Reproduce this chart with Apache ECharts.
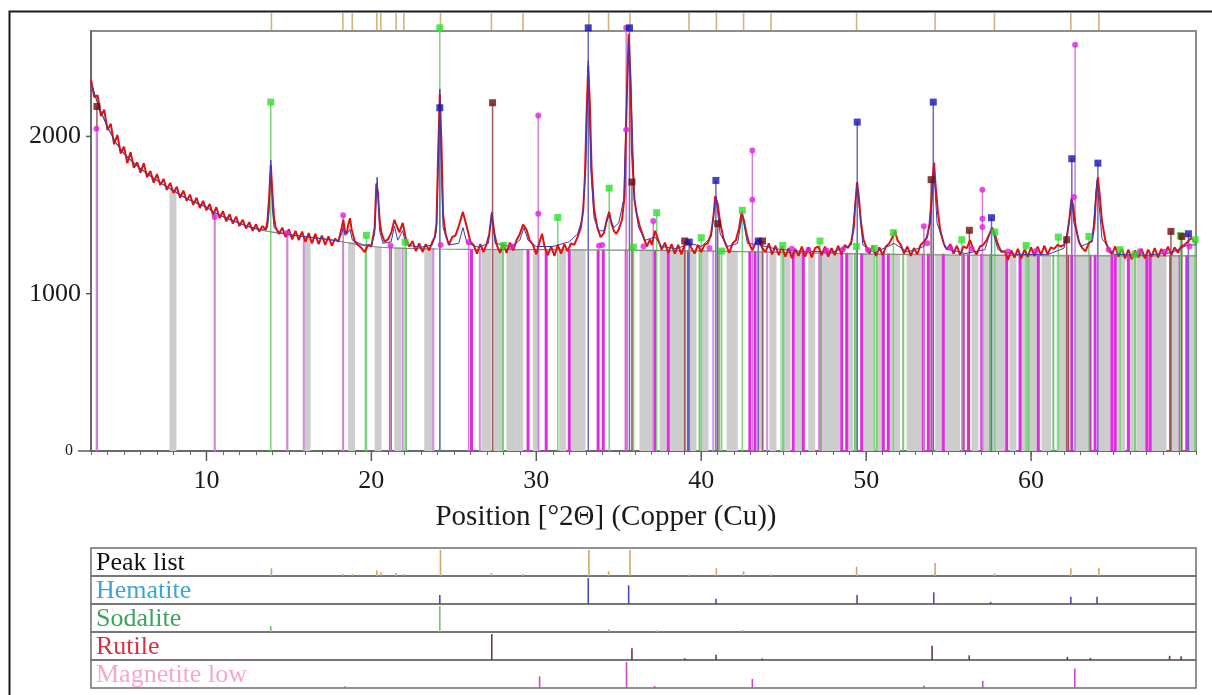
<!DOCTYPE html>
<html><head><meta charset="utf-8">
<script src="https://cdn.jsdelivr.net/npm/echarts@6/dist/echarts.min.js"></script>
<style>html,body{margin:0;padding:0;background:#fff}#c{width:1212px;height:695px}</style>
</head><body><div id="c"></div>
<script>
// ---------- axis / labels ----------
const xMin = 3, xMax = 70, yMax = 2670;
const xTickLabels = [10, 20, 30, 40, 50, 60];
const yTickLabels = [0, 1000, 2000];
const xTitle = 'Position [°2Θ] (Copper (Cu))';
const rowNames = ['Peak list', 'Hematite', 'Sodalite', 'Rutile', 'Magnetite low'];

// ---------- observed scan (counts) ----------
const observed = [
[3.0,2360],[3.2,2250],[3.4,2260],[3.6,2130],[3.8,2170],[4.0,2040],[4.2,2080],[4.4,1950],[4.6,2010],[4.8,1890],
[5.0,1935],[5.2,1830],[5.4,1900],[5.6,1800],[5.8,1835],[6.0,1770],[6.2,1830],[6.4,1740],[6.6,1780],[6.8,1705],
[7.0,1760],[7.2,1690],[7.4,1730],[7.6,1660],[7.8,1705],[8.0,1640],[8.2,1680],[8.4,1610],[8.6,1655],[8.8,1590],
[9.0,1630],[9.2,1565],[9.4,1610],[9.6,1545],[9.8,1590],[10.0,1530],[10.2,1570],[10.4,1500],[10.6,1550],[10.8,1480],
[11.0,1525],[11.2,1460],[11.4,1505],[11.6,1445],[11.8,1490],[12.0,1430],[12.2,1470],[12.4,1415],[12.6,1455],[12.8,1400],
[13.0,1440],[13.2,1395],[13.4,1430],[13.6,1405],[13.7,1465],[13.8,1610],[13.9,1820],[14.0,1640],[14.1,1480],[14.2,1420],
[14.4,1380],[14.6,1420],[14.8,1360],[15.0,1410],[15.2,1345],[15.4,1400],[15.6,1340],[15.8,1395],[16.0,1330],[16.2,1385],
[16.4,1320],[16.6,1380],[16.8,1315],[17.0,1370],[17.2,1310],[17.4,1365],[17.6,1305],[17.8,1350],[18.0,1330],[18.2,1420],
[18.3,1470],[18.4,1395],[18.5,1380],[18.6,1440],[18.7,1480],[18.8,1410],[19.0,1330],[19.2,1310],[19.4,1290],[19.6,1265],
[19.8,1310],[20.0,1300],[20.2,1420],[20.3,1700],[20.4,1640],[20.5,1470],[20.6,1390],[20.8,1330],[21.0,1345],[21.2,1385],
[21.4,1470],[21.5,1440],[21.7,1390],[21.9,1450],[22.1,1345],[22.3,1300],[22.5,1335],[22.7,1270],[22.9,1320],[23.1,1265],
[23.3,1315],[23.5,1275],[23.7,1330],[23.85,1360],[23.95,1450],[24.05,1900],[24.15,2270],[24.25,1950],[24.35,1500],[24.5,1380],
[24.7,1310],[24.9,1360],[25.1,1370],[25.3,1430],[25.55,1520],[25.8,1420],[26.0,1330],[26.2,1310],[26.4,1255],[26.6,1315],
[26.8,1265],[27.0,1320],[27.15,1380],[27.3,1510],[27.45,1390],[27.6,1310],[27.8,1260],[28.0,1320],[28.2,1260],[28.4,1325],
[28.6,1275],[28.8,1340],[29.0,1380],[29.2,1440],[29.4,1410],[29.6,1340],[29.8,1310],[30.0,1250],[30.2,1330],[30.35,1380],
[30.5,1300],[30.7,1245],[30.9,1300],[31.1,1240],[31.3,1310],[31.5,1255],[31.7,1315],[31.9,1270],[32.1,1320],[32.3,1310],
[32.5,1360],[32.7,1420],[32.85,1540],[32.95,1750],[33.05,2150],[33.15,2450],[33.25,2200],[33.35,1800],[33.5,1540],[33.7,1420],
[33.9,1360],[34.1,1385],[34.3,1480],[34.42,1520],[34.55,1450],[34.7,1400],[34.85,1380],[35.0,1410],[35.2,1470],[35.35,1620],
[35.5,2300],[35.6,2650],[35.7,2400],[35.8,1900],[35.95,1600],[36.1,1500],[36.3,1420],[36.5,1360],[36.7,1300],[36.9,1345],
[37.0,1310],[37.2,1400],[37.4,1340],[37.6,1280],[37.8,1325],[38.0,1260],[38.2,1315],[38.4,1255],[38.6,1310],[38.8,1250],
[39.0,1315],[39.2,1340],[39.4,1290],[39.6,1255],[39.8,1310],[40.0,1265],[40.2,1310],[40.4,1320],[40.6,1380],[40.75,1500],
[40.85,1620],[41.0,1570],[41.15,1450],[41.35,1350],[41.5,1310],[41.7,1260],[41.9,1320],[42.1,1340],[42.3,1420],[42.45,1520],
[42.6,1460],[42.75,1380],[42.9,1320],[43.1,1275],[43.3,1325],[43.5,1345],[43.7,1290],[43.9,1265],[44.1,1320],[44.3,1250],
[44.5,1305],[44.7,1245],[44.9,1300],[45.1,1235],[45.3,1290],[45.5,1225],[45.7,1285],[45.9,1240],[46.1,1300],[46.3,1235],
[46.5,1295],[46.7,1230],[46.9,1290],[47.1,1300],[47.3,1245],[47.5,1300],[47.7,1235],[47.9,1290],[48.1,1245],[48.3,1305],
[48.5,1250],[48.7,1310],[48.9,1290],[49.1,1330],[49.25,1420],[49.35,1580],[49.45,1710],[49.55,1620],[49.7,1440],[49.85,1340],
[50.0,1300],[50.2,1255],[50.4,1305],[50.6,1240],[50.8,1295],[51.0,1245],[51.2,1300],[51.4,1320],[51.6,1360],[51.75,1400],
[51.9,1340],[52.1,1310],[52.3,1255],[52.5,1300],[52.7,1240],[52.9,1290],[53.1,1250],[53.3,1310],[53.5,1330],[53.7,1360],
[53.85,1450],[53.95,1580],[54.05,1760],[54.12,1834],[54.2,1700],[54.35,1520],[54.5,1400],[54.7,1320],[54.9,1280],[55.1,1315],
[55.3,1255],[55.5,1305],[55.7,1245],[55.9,1300],[56.1,1290],[56.3,1340],[56.5,1280],[56.7,1250],[56.9,1300],[57.1,1310],
[57.3,1340],[57.5,1385],[57.65,1420],[57.8,1380],[58.0,1310],[58.2,1265],[58.4,1270],[58.6,1215],[58.8,1275],[59.0,1230],
[59.2,1285],[59.4,1225],[59.6,1280],[59.8,1235],[60.0,1295],[60.2,1240],[60.4,1300],[60.6,1245],[60.8,1305],[61.0,1250],
[61.2,1295],[61.4,1285],[61.6,1310],[61.8,1300],[62.0,1310],[62.2,1380],[62.35,1500],[62.45,1600],[62.55,1560],[62.7,1430],
[62.9,1330],[63.1,1290],[63.3,1270],[63.5,1320],[63.7,1340],[63.85,1450],[63.95,1640],[64.05,1740],[64.15,1640],[64.3,1460],
[64.5,1340],[64.7,1280],[64.9,1250],[65.1,1300],[65.3,1235],[65.5,1285],[65.7,1225],[65.9,1280],[66.1,1220],[66.3,1275],
[66.5,1230],[66.7,1285],[66.9,1225],[67.1,1280],[67.3,1235],[67.5,1290],[67.7,1230],[67.9,1285],[68.1,1240],[68.3,1300],
[68.5,1245],[68.7,1295],[68.9,1260],[69.1,1300],[69.3,1310],[69.5,1330],[69.7,1355],[69.85,1340],[70.0,1320]
];

// ---------- background ----------
const background = [
[3,2340],[3.5,2180],[4,2060],[4.5,1960],[5,1890],[5.5,1840],[6,1795],[6.5,1755],[7,1720],[7.5,1685],[8,1655],[8.5,1622],
[9,1595],[9.5,1572],[10,1550],[10.5,1515],[11,1490],[11.5,1468],[12,1448],[12.5,1428],[13,1412],[13.5,1400],[14,1392],
[15,1376],[16,1362],[17,1350],[18,1335],[19,1315],[20,1300],[21,1292],[22,1288],[24,1284],[26,1282],[30,1280],[35,1277],
[40,1272],[45,1262],[50,1252],[55,1246],[60,1242],[65,1240],[70,1240]
];

// ---------- calculated profile ----------
const calculated = [
[3,2340],[3.5,2180],[4,2060],[4.5,1960],[5,1890],[5.5,1840],[6,1795],[6.5,1755],[7,1720],[7.5,1685],[8,1655],[8.5,1622],
[9,1595],[9.5,1572],[10,1550],[10.5,1515],[11,1490],[11.5,1468],[12,1448],[12.5,1428],[13,1414],[13.5,1405],[13.7,1420],
[13.8,1520],[13.9,1850],[14.0,1540],[14.1,1420],[14.5,1388],[15,1376],[16,1362],[17,1350],[18,1335],[18.2,1380],[18.3,1420],
[18.4,1370],[18.6,1390],[18.7,1410],[18.85,1340],[19.5,1310],[20,1310],[20.2,1380],[20.35,1740],[20.5,1400],[20.7,1320],
[21.2,1330],[21.4,1430],[21.6,1340],[21.9,1400],[22.1,1310],[23,1295],[23.7,1310],[23.95,1400],[24.08,1900],[24.15,2300],
[24.22,1900],[24.35,1420],[24.7,1310],[25.3,1320],[25.55,1420],[25.8,1320],[26.5,1295],[27.1,1320],[27.3,1520],[27.5,1320],
[28.5,1300],[29.0,1340],[29.25,1420],[29.5,1340],[30,1300],[31,1300],[32,1330],[32.5,1380],[32.8,1480],[33.0,1800],
[33.15,2480],[33.3,1800],[33.5,1480],[33.8,1400],[34.1,1400],[34.4,1500],[34.7,1420],[35.0,1450],[35.3,1600],[35.5,2300],
[35.62,2600],[35.75,2300],[35.95,1600],[36.2,1420],[36.6,1340],[37.2,1360],[37.6,1300],[38.5,1285],[39.3,1320],[40.0,1300],
[40.6,1360],[40.88,1620],[41.15,1380],[41.6,1300],[42.2,1320],[42.5,1500],[42.8,1320],[43.5,1310],[44.5,1285],[46,1270],
[48,1265],[49.1,1310],[49.45,1700],[49.8,1310],[50.5,1260],[51.7,1320],[52.5,1265],[53.5,1300],[53.9,1450],[54.1,1800],
[54.3,1450],[54.8,1290],[56,1255],[57.2,1280],[57.6,1420],[58,1280],[59,1250],[61,1248],[62.0,1290],[62.3,1450],[62.45,1620],
[62.6,1450],[63.0,1300],[63.7,1330],[64.0,1720],[64.3,1350],[65,1250],[67,1245],[68.5,1260],[69.5,1310],[70,1310]
];

// ---------- reference lines below the scan: [position, top] ----------
const greyLines = [
[7.97,1660],[16.1,1360],[18.8,1330],[20.41,1300],[21.6,1295],[23.42,1290],[23.6,1290],[26.88,1285],[27.06,1285],[27.6,1285],
[27.79,1285],[28.4,1285],[28.6,1285],[29.0,1285],[30.0,1280],[31.6,1280],[32.34,1280],[32.55,1280],[32.77,1280],[36.47,1280],
[36.7,1280],[36.9,1280],[37.08,1280],[37.69,1278],[38.3,1278],[38.54,1278],[38.75,1278],[38.9,1278],[39.5,1276],[40.23,1275],
[41.75,1273],[42.0,1273],[43.57,1270],[44.35,1270],[45.0,1265],[45.2,1265],[45.9,1264],[46.0,1264],[46.7,1262],[47.45,1262],
[47.7,1262],[47.95,1262],[48.2,1260],[49.0,1260],[50.03,1258],[50.3,1258],[50.9,1258],[51.6,1256],[51.85,1256],[52.66,1255],
[52.9,1255],[53.1,1255],[53.3,1255],[54.4,1254],[55.0,1254],[55.2,1254],[55.49,1254],[56.6,1252],[57.3,1252],[57.82,1252],
[58.2,1250],[58.9,1250],[59.6,1250],[60.0,1250],[60.2,1250],[60.85,1248],[61.0,1248],[61.76,1248],[62.0,1248],[62.9,1248],
[63.17,1248],[63.3,1248],[64.29,1246],[64.6,1246],[65.3,1246],[65.5,1246],[66.1,1246],[66.6,1246],[66.9,1246],[67.4,1246],
[67.72,1246],[68.0,1246],[68.6,1246],[68.8,1246],[69.7,1246]
];
const orchidLines = [
[10.5,1500],[14.91,1380],[15.9,1365],[18.29,1330],[21.9,1295],[23.75,1290],[26.58,1285],[39.0,1278],[40.73,1275],[44.0,1270],
[54.07,1254],[62.67,1248]
];
const magentaLines = [
[21.16,1295],[26.07,1285],[29.5,1285],[30.6,1280],[32.0,1280],[33.75,1280],[34.06,1280],[35.45,1280],[37.2,1278],[38.0,1278],
[42.95,1272],[43.26,1272],[45.58,1265],[46.19,1264],[47.2,1262],[48.52,1260],[48.82,1260],[49.73,1258],[51.04,1258],[51.34,1256],
[53.47,1255],[53.77,1255],[54.68,1254],[55.89,1252],[56.2,1252],[57.01,1252],[58.52,1250],[59.33,1250],[60.44,1248],[62.47,1248],
[63.58,1248],[63.88,1248],[64.9,1246],[65.1,1246],[65.9,1246],[67.02,1246],[67.22,1246],[69.04,1246],[69.44,1246]
];
const greenLines = [
[19.66,1300],[22.1,1295],[27.98,1285],[35.88,1280],[39.9,1276],[41.1,1273],[44.97,1266],[49.32,1258],[50.64,1258],[52.25,1256],
[57.51,1252],[59.84,1250],[61.35,1248],[66.31,1246],[69.95,1246]
];
const brownLines = [[62.26,1248],[68.43,1246]];
const blueLines = [[39.2,1276]];

// ---------- phase sticks with markers: [position, top] ----------
const sodalite = [
[13.9,2218],[19.7,1371],[22.05,1327],[24.15,2690],[28.0,1307],[31.3,1485],[34.42,1671],[35.88,1296],[37.3,1515],[40.0,1356],
[41.24,1271],[42.49,1530],[44.94,1307],[47.2,1335],[49.4,1301],[50.5,1288],[51.65,1388],[55.8,1343],[57.8,1392],[59.7,1307],
[61.65,1360],[63.5,1364],[65.4,1280],[66.3,1250],[69.05,1370],[69.95,1343]
];
const hematite = [
[24.15,2182],[33.15,2690],[35.65,2690],[39.27,1328],[40.89,1720],[43.46,1335],[49.46,2091],[54.07,2218],[57.6,1483],
[62.47,1858],[64.05,1830],[69.54,1381]
];
const rutile = [
[3.36,2190],[27.35,2214],[35.8,1710],[39.0,1335],[41.0,1445],[43.72,1335],[53.94,1725],[56.26,1403],[62.16,1343],
[68.48,1396],[69.14,1364]
];
const magnetite = [
[3.33,2049],[10.5,1487],[14.9,1386],[18.29,1498],[21.16,1307],[25.9,1328],[30.12,2133],[35.45,2690],[37.09,1462],[43.1,1911],
[53.5,1428],[57.05,1661],[62.67,2583]
];
const magnetiteDots = [
[30.12,1509],[35.45,2042],[43.1,1598],[57.05,1477],[57.05,1424],[62.6,1614],[24.2,1310],[28.5,1300],[33.8,1305],[34.0,1310],
[36.5,1300],[40.5,1290],[45.5,1285],[46.5,1280],[47.6,1275],[48.6,1282],[50.1,1278],[53.7,1320],[55.1,1290],[56.4,1285],
[58.6,1268],[60.3,1272],[64.7,1280],[66.6,1270],[68.1,1266],[69.6,1300]
];

// ---------- lower panel: relative intensities ----------
const peakListRel = [
[13.94,30],[18.27,8],[18.84,8],[20.33,22],[20.57,14],[21.5,12],[21.97,8],[24.19,100],[27.28,12],[29.19,8],[33.19,100],
[34.38,18],[35.68,100],[39.26,6],[40.92,30],[42.57,18],[44.23,6],[49.42,36],[54.18,50],[57.78,10],[62.41,30],[64.11,32]
];
const hematiteRel = [[24.15,35],[33.15,100],[35.6,72],[40.9,20],[49.45,35],[54.1,45],[57.55,8],[62.41,28],[64.0,28]];
const sodaliteRel = [[13.9,22],[24.15,100],[34.4,10],[37.3,6],[42.5,8]];
const rutileRel = [[27.3,100],[35.8,45],[39.0,7],[40.9,20],[43.7,6],[54.0,55],[56.25,18],[62.2,12],[63.6,8],[68.4,16],[69.1,14]];
const magnetiteRel = [[18.4,7],[30.2,45],[35.47,100],[37.17,8],[43.1,35],[53.5,10],[57.07,28],[62.65,75]];

// ================= build chart =================
const FONT = 'Liberation Serif, DejaVu Serif, serif';
const chart = echarts.init(document.getElementById('c'), null, {renderer: 'canvas'});

function vline(color, width) {
  return function (params, api) {
    const a = api.coord([api.value(0), 0]);
    const b = api.coord([api.value(0), api.value(1)]);
    return {type: 'line', shape: {x1: a[0], y1: a[1], x2: b[0], y2: b[1]}, style: {stroke: color, lineWidth: width}};
  };
}
function vrect(color, width) {
  return function (params, api) {
    const a = api.coord([api.value(0), 0]);
    const b = api.coord([api.value(0), api.value(1)]);
    return {type: 'rect', shape: {x: a[0] - width / 2, y: b[1], width: width, height: a[1] - b[1]}, style: {fill: color}};
  };
}
function lineSeries(data, color, width, z) {
  return {type: 'custom', xAxisIndex: 0, yAxisIndex: 0, data: data, z: z, renderItem: vline(color, width), silent: true};
}

const grids = [{left: 91, right: 16, top: 31, bottom: 244, show: true, borderColor: '#8c8c8c', borderWidth: 2}];
grids.push({left: 91, right: 16, top: 13, height: 17, show: false});
const rowTop = 548, rowH = 28;
for (let i = 0; i < 5; i++) grids.push({left: 91, right: 16, top: rowTop + i * rowH, height: rowH, show: true, borderColor: '#6e6e6e', borderWidth: 1.5});

const xAxes = [{
  gridIndex: 0, type: 'value', min: xMin, max: xMax, interval: 1,
  axisLine: {show: true, lineStyle: {color: '#6a6a6a', width: 2}},
  axisTick: {show: true, length: 4, lineStyle: {color: '#6a6a6a'}},
  splitLine: {show: false},
  axisLabel: {margin: 17, color: '#1a1a1a', fontFamily: FONT, fontSize: 26,
    formatter: v => (xTickLabels.indexOf(v) >= 0 ? String(v) : '')}
}];
const yAxes = [{
  gridIndex: 0, type: 'value', min: 0, max: yMax, interval: 1000,
  axisLine: {show: true, lineStyle: {color: '#6a6a6a', width: 2}},
  axisTick: {show: false}, splitLine: {show: false},
  axisLabel: {margin: 10, color: '#1a1a1a', fontFamily: FONT, fontSize: 26,
    formatter: v => (v === 0 ? '{s|0}' : (yTickLabels.indexOf(v) >= 0 ? String(v) : '')),
    rich: {s: {fontSize: 16, fontFamily: FONT, color: '#1a1a1a', padding: [0, 8, 0, 0]}}}
}];
for (let g = 1; g <= 6; g++) {
  xAxes.push({gridIndex: g, type: 'value', min: xMin, max: xMax, show: false});
  yAxes.push({gridIndex: g, type: 'value', min: 0, max: g === 1 ? 1 : 108, show: false});
}

const series = [
  {type: 'custom', xAxisIndex: 0, yAxisIndex: 0, data: greyLines, z: 1, renderItem: vrect('#cdcdcd', 7), silent: true},
  lineSeries(orchidLines, '#d28ee0', 2, 2),
  lineSeries(magentaLines, '#e02ce0', 3, 2),
  lineSeries(greenLines, '#74c874', 2, 2),
  lineSeries(brownLines, '#9a5a52', 2, 2),
  lineSeries(blueLines, '#5a5ac8', 2, 2),
  lineSeries(sodalite, '#7ad67a', 1.5, 3),
  lineSeries(hematite, '#6a6ac0', 1.5, 3),
  lineSeries(rutile, '#a05a5a', 1.5, 3),
  lineSeries(magnetite, '#d47ed8', 1.5, 3),
  {type: 'line', xAxisIndex: 0, yAxisIndex: 0, data: background, showSymbol: false, z: 4, silent: true,
    lineStyle: {color: '#7f8c78', width: 1.2}},
  {type: 'line', xAxisIndex: 0, yAxisIndex: 0, data: observed, showSymbol: false, z: 5, silent: true, sampling: 'none',
    lineStyle: {color: '#e41010', width: 2}},
  {type: 'line', xAxisIndex: 0, yAxisIndex: 0, data: calculated, showSymbol: false, z: 6, silent: true,
    lineStyle: {color: '#3b3bb0', width: 1}},
  {type: 'scatter', xAxisIndex: 0, yAxisIndex: 0, data: magnetiteDots, symbol: 'circle', symbolSize: 6, z: 7, clip: false,
    itemStyle: {color: '#e41ee0'}, silent: true},
  {type: 'scatter', xAxisIndex: 0, yAxisIndex: 0, data: magnetite, symbol: 'circle', symbolSize: 6, z: 7, clip: false,
    itemStyle: {color: '#e41ee0'}, silent: true},
  {type: 'scatter', xAxisIndex: 0, yAxisIndex: 0, data: sodalite, symbol: 'rect', symbolSize: 7, z: 8, clip: false,
    itemStyle: {color: '#2ee02e'}, silent: true},
  {type: 'scatter', xAxisIndex: 0, yAxisIndex: 0, data: rutile, symbol: 'rect', symbolSize: 7, z: 8, clip: false,
    itemStyle: {color: '#6e0e0e'}, silent: true},
  {type: 'scatter', xAxisIndex: 0, yAxisIndex: 0, data: hematite, symbol: 'rect', symbolSize: 7, z: 8, clip: false,
    itemStyle: {color: '#1414b4'}, silent: true},
  // major x ticks
  {type: 'custom', xAxisIndex: 0, yAxisIndex: 0, data: xTickLabels.map(v => [v, 0]), z: 9, clip: false, silent: true,
    renderItem: (p, api) => { const a = api.coord([api.value(0), 0]);
      return {type: 'line', shape: {x1: a[0], y1: a[1], x2: a[0], y2: a[1] + 10}, style: {stroke: '#5a5a5a', lineWidth: 1.5}}; }},
  // y ticks
  {type: 'custom', xAxisIndex: 0, yAxisIndex: 0, data: yTickLabels.map(v => [xMin, v]), z: 9, clip: false, silent: true,
    renderItem: (p, api) => { const a = api.coord([api.value(0), api.value(1)]); const len = api.value(1) === 0 ? 13 : 5;
      return {type: 'line', shape: {x1: a[0] - len, y1: a[1], x2: a[0], y2: a[1]}, style: {stroke: '#5a5a5a', lineWidth: 1.5}}; }},
  // peak-list ticks above the frame
  {type: 'custom', xAxisIndex: 1, yAxisIndex: 1, data: peakListRel.map(d => [d[0], 1]), z: 3, silent: true,
    renderItem: vline('#d6b27c', 1.6)}
];
const rowData = [peakListRel, hematiteRel, sodaliteRel, rutileRel, magnetiteRel];
const rowStick = ['#cfa868', '#4a4ac0', '#6cc86c', '#6e3a3a', '#c848d0'];
for (let i = 0; i < 5; i++) {
  series.push({type: 'custom', xAxisIndex: i + 2, yAxisIndex: i + 2, data: rowData[i], z: 3, silent: true,
    renderItem: vline(rowStick[i], 1.6)});
}

const rowLabelColors = ['#111111', '#3aa6d8', '#3aa65a', '#d2343e', '#f6a8cc'];
const graphics = [
  {type: 'rect', left: 7, top: 9, shape: {x: 0, y: 0, width: 1230, height: 720}, style: {fill: 'none', stroke: '#1a1a1a', lineWidth: 2}, z: 100},
  {type: 'text', x: 606, y: 517, style: {text: xTitle, font: '29px ' + FONT, fill: '#1a1a1a', textAlign: 'center', textVerticalAlign: 'middle'}, z: 100}
];
for (let i = 0; i < 5; i++) {
  graphics.push({type: 'text', x: 96, y: rowTop + i * rowH + rowH / 2 + 1,
    style: {text: rowNames[i], font: '26px ' + FONT, fill: rowLabelColors[i], textAlign: 'left', textVerticalAlign: 'middle'}, z: 100});
}

chart.setOption({
  animation: false,
  backgroundColor: '#ffffff',
  grid: grids, xAxis: xAxes, yAxis: yAxes, series: series, graphic: graphics
});
</script></body></html>
